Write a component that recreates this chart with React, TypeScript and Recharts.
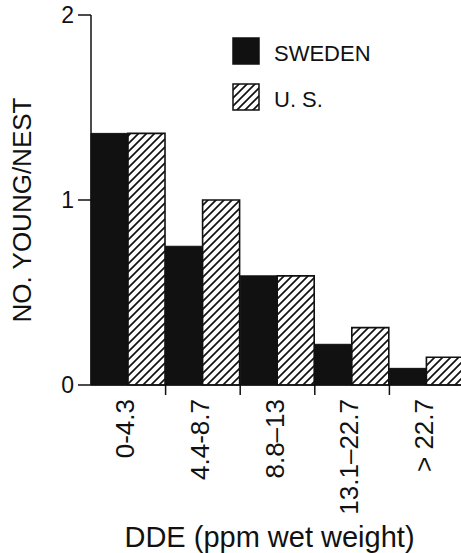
import React from "react";
import { BarChart, Bar, XAxis, YAxis, Legend } from "recharts";

const categories = ["0-4.3", "4.4-8.7", "8.8–13", "13.1–22.7", "> 22.7"];
const sweden = [1.36, 0.75, 0.59, 0.22, 0.09];
const us = [1.36, 1.0, 0.59, 0.31, 0.15];
const yTicks = [0, 1, 2];

const data = categories.map((name, i) => ({ name, sweden: sweden[i], us: us[i] }));

const FONT = "'Liberation Sans', Arial, sans-serif";
const INK = "#111";

const HatchDef = ({ id }: { id: string }) => (
  <pattern id={id} patternUnits="userSpaceOnUse" width={8} height={8}>
    <rect width={8} height={8} fill="#fff" />
    <path d="M-2,2 L2,-2 M0,8 L8,0 M6,10 L10,6" stroke={INK} strokeWidth={1.7} />
  </pattern>
);

// category labels sit at band centres, tick marks on the band boundaries
const DoseTick = (props: any) => {
  const { x, y, payload, index } = props;
  const half = payload?.offset ?? 0;
  return (
    <g>
      {index < categories.length - 1 && (
        <line x1={x + half} x2={x + half} y1={y} y2={y + 10} stroke={INK} strokeWidth={1.5} />
      )}
      <text
        x={x + 6}
        y={y + 14}
        transform={`rotate(-90, ${x + 6}, ${y + 14})`}
        textAnchor="end"
        fontFamily={FONT}
        fontSize={26}
        fill={INK}
      >
        {payload.value}
      </text>
    </g>
  );
};

const LegendBox = (props: any) => {
  const items = props.payload || [];
  return (
    <svg width={200} height={80}>
      <defs>
        <HatchDef id="hatch-legend" />
      </defs>
      {items.map((item: any, i: number) => (
        <g key={item.value} transform={`translate(0, ${i * 46})`}>
          <rect
            x={1}
            y={1}
            width={26}
            height={26}
            fill={i === 0 ? INK : "url(#hatch-legend)"}
            stroke={INK}
            strokeWidth={1.5}
          />
          <text x={42} y={24} fontFamily={FONT} fontSize={22} fill={INK}>
            {item.value}
          </text>
        </g>
      ))}
    </svg>
  );
};

export default function App() {
  return (
    <div style={{ position: "absolute", left: 0, top: 0, width: 461, height: 553, overflow: "hidden", background: "#fff" }}>
      <BarChart
        width={470}
        height={553}
        data={data}
        margin={{ top: 15, right: 6, bottom: 0, left: 0 }}
        barCategoryGap={0}
        barGap={0}
      >
        <defs>
          <HatchDef id="hatch" />
        </defs>
        <XAxis
          dataKey="name"
          interval={0}
          height={168}
          tickLine={false}
          tickSize={0}
          tickMargin={0}
          axisLine={{ stroke: INK, strokeWidth: 1.5 }}
          tick={<DoseTick />}
          label={({ viewBox }: any) => (
            <text
              x={viewBox.x + viewBox.width / 2 - 8}
              y={viewBox.y + 162}
              textAnchor="middle"
              fontFamily={FONT}
              fontSize={29}
              fill={INK}
            >
              DDE (ppm wet weight)
            </text>
          )}
        />
        <YAxis
          width={91}
          domain={[0, 2]}
          ticks={yTicks}
          interval={0}
          tickSize={13}
          tickMargin={4}
          axisLine={{ stroke: INK, strokeWidth: 1.5 }}
          tickLine={{ stroke: INK, strokeWidth: 1.5 }}
          tick={{ fontFamily: FONT, fontSize: 23, fill: INK }}
          label={({ viewBox }: any) => {
            const cx = viewBox.x + 22;
            const cy = viewBox.y + viewBox.height / 2 + 10;
            return (
              <text
                x={cx}
                y={cy}
                transform={`rotate(-90, ${cx}, ${cy})`}
                textAnchor="middle"
                dominantBaseline="central"
                fontFamily={FONT}
                fontSize={26}
                fill={INK}
              >
                NO. YOUNG/NEST
              </text>
            );
          }}
        />
        <Legend
          layout="vertical"
          align="center"
          verticalAlign="middle"
          content={<LegendBox />}
          wrapperStyle={{ left: 232, top: 37, width: 200, height: 80 }}
        />
        <Bar dataKey="sweden" name="SWEDEN" fill={INK} stroke={INK} strokeWidth={1} isAnimationActive={false} />
        <Bar dataKey="us" name="U. S." fill="url(#hatch)" stroke={INK} strokeWidth={1.6} isAnimationActive={false} />
      </BarChart>
    </div>
  );
}
